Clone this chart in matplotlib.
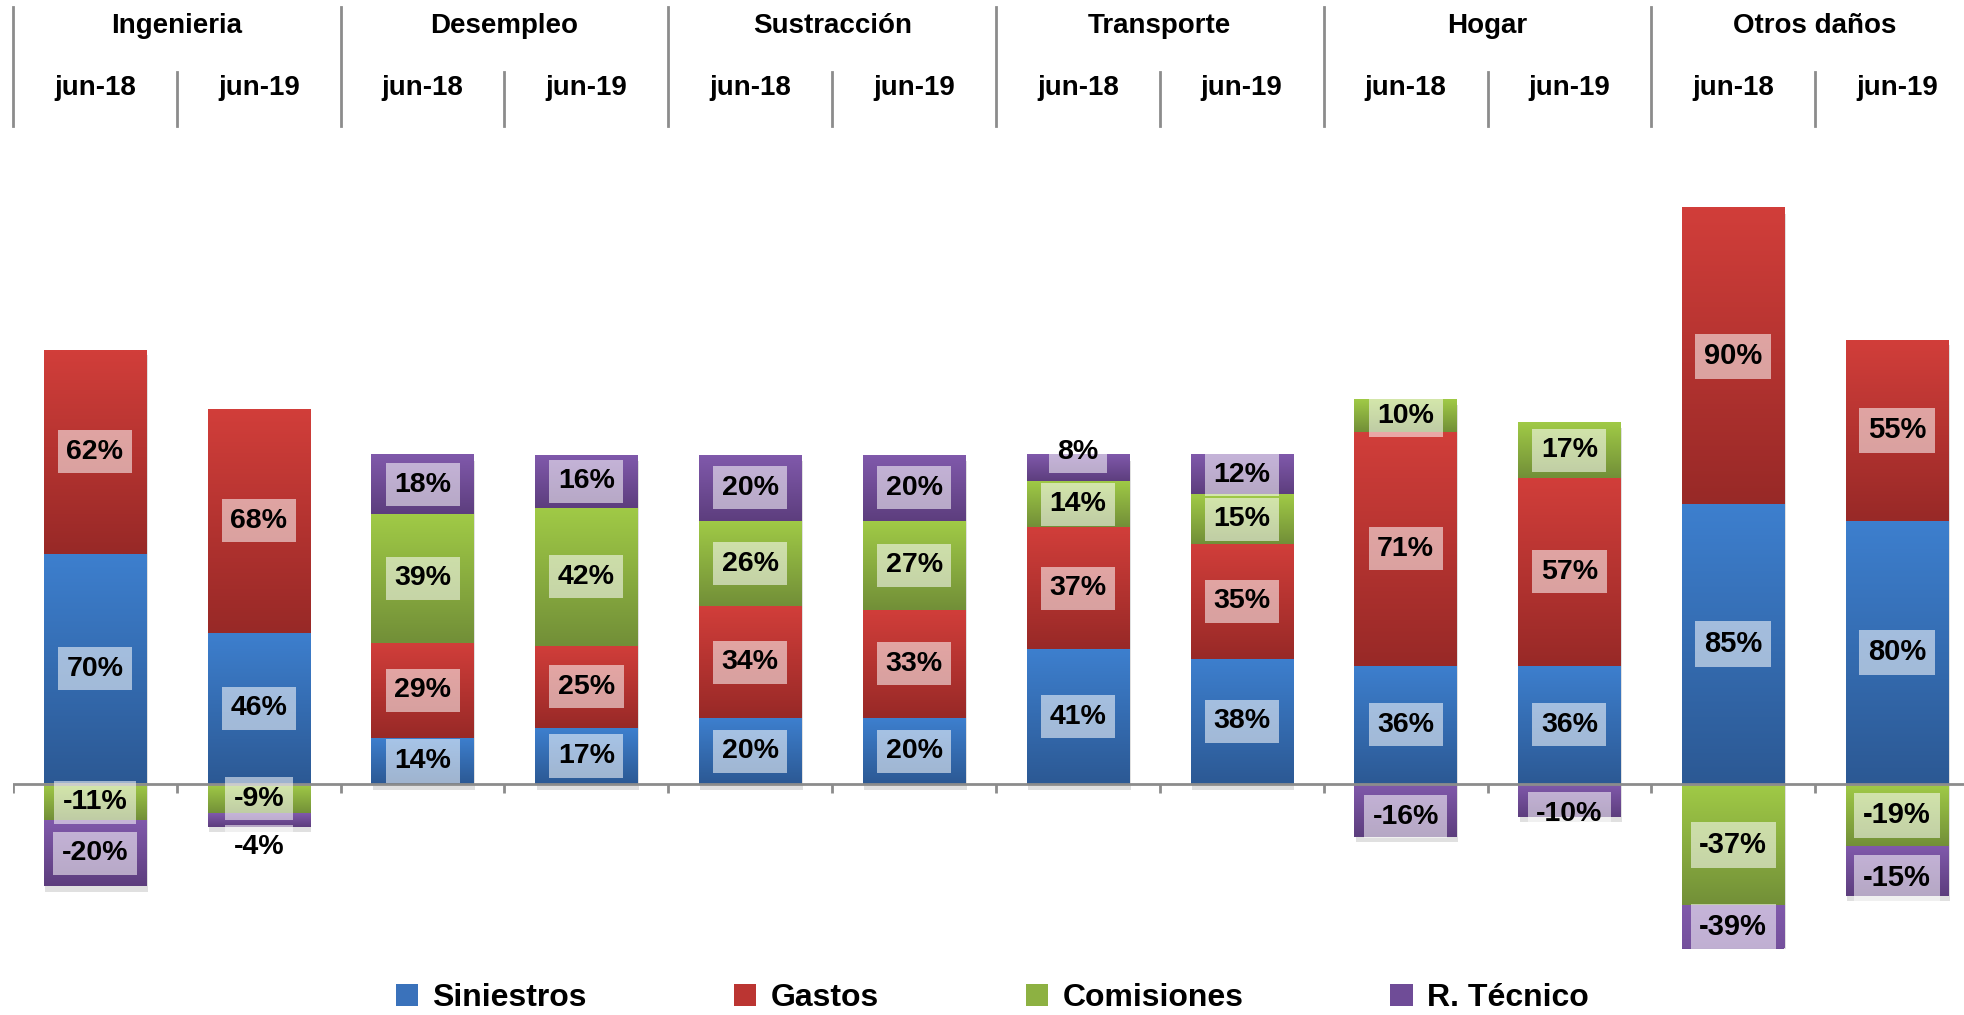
import numpy as np
import matplotlib
matplotlib.use('Agg')
import matplotlib.pyplot as plt
from matplotlib import patheffects as pe
from matplotlib.patches import Patch

# ramos y periodos
cats = ['Ingenieria', 'Desempleo', 'Sustracción', 'Transporte', 'Hogar', 'Otros daños']
periods = ['jun-18', 'jun-19']
series = ['Siniestros', 'Gastos', 'Comisiones', 'R. Técnico']

# % sobre primas, una entrada por barra (jun-18, jun-19 de cada ramo)
siniestros = [70, 46, 14, 17, 20, 20, 41, 38, 36, 36, 85, 80]
gastos = [62, 68, 29, 25, 34, 33, 37, 35, 71, 57, 90, 55]
comisiones = [-11, -9, 39, 42, 26, 27, 14, 15, 10, 17, -37, -19]
tecnico = [-20, -4, 18, 16, 20, 20, 8, 12, -16, -10, -39, -15]

top_cols = ['#3d7fce', '#d13e3a', '#a0ca46', '#8059ab']
bot_cols = ['#2c5994', '#982927', '#728f38', '#5d3e7e']
mid_cols = ['#3a72bb', '#bb3532', '#8db142', '#6f4c97']

# labels moved by hand in the original (bar index, series index) -> shift in %
label_shift = {(6, 3): 5, (1, 3): -8, (9, 3): -4, (8, 3): -2, (11, 3): -2}

plt.rcParams['font.family'] = ['Liberation Sans', 'DejaVu Sans']
grey = '#8c8c8c'
YMIN, YMAX = -50, 200


def hex2rgb(h):
    return np.array([int(h[i:i + 2], 16) / 255 for i in (1, 3, 5)])


fig = plt.figure(figsize=(19.65, 10.15), dpi=100)
ax = fig.add_axes([13 / 1965, 66.5 / 1015, 1966 / 1965, 822.5 / 1015])
ax.axis('off')

x = np.arange(len(siniestros))
pos = np.zeros(len(x))
neg = np.zeros(len(x))
for k, vals in enumerate([siniestros, gastos, comisiones, tecnico]):
    v = np.array(vals, dtype=float)
    bottom = np.where(v >= 0, pos, neg)
    bars = ax.bar(x, v, 0.625, bottom=bottom, color=mid_cols[k], linewidth=0, zorder=2,
                  path_effects=[pe.SimplePatchShadow(offset=(1, -4), shadow_rgbFace='#999999', alpha=0.3),
                                pe.Normal()])
    pos += np.where(v > 0, v, 0)
    neg += np.where(v < 0, v, 0)

    t = hex2rgb(top_cols[k])
    b = hex2rgb(bot_cols[k])
    grad = np.linspace(0, 1, 64)[:, None, None]
    img = t * (1 - grad) + b * grad
    for i, (bar, val) in enumerate(zip(bars, v)):
        x0 = bar.get_x()
        y0 = bar.get_y()
        y1 = y0 + bar.get_height()
        lo, hi = min(y0, y1), max(y0, y1)
        ax.imshow(img, extent=[x0, x0 + bar.get_width(), lo, hi], aspect='auto',
                  origin='upper', zorder=2.5, interpolation='bilinear')
        yc = (max(lo, YMIN) + min(hi, YMAX)) / 2 + label_shift.get((i, k), 0)
        ax.text(x0 + bar.get_width() / 2, yc, f'{int(val)}%', ha='center', va='center',
                fontsize=21 if i >= 10 else 20.5, fontweight='bold', zorder=5,
                bbox=dict(boxstyle='square,pad=0.3', fc='white', ec='none', alpha=0.55))

ax.set_xlim(-0.5, 11.5)
ax.set_ylim(YMIN, YMAX)

# eje en cero con marcas entre barras
ax.axhline(0, color=grey, lw=2, zorder=3)
ax.vlines(np.arange(-0.5, 12), -2.6, 0, color=grey, lw=2, zorder=3)

# cabecera: ramo y periodo
tr = ax.get_xaxis_transform()
for j, c in enumerate(cats):
    ax.plot([2 * j - 0.5] * 2, [1.0, 1.145], transform=tr, color=grey, lw=2, clip_on=False)
    ax.plot([2 * j + 0.5] * 2, [1.0, 1.0654], transform=tr, color=grey, lw=2, clip_on=False)
    ax.text(2 * j + 0.5, 1.1216, c, transform=tr, ha='center', va='center',
            fontsize=20, fontweight='bold')
    for p, per in enumerate(periods):
        ax.text(2 * j + p, 1.046, per, transform=tr, ha='center', va='center',
                fontsize=20, fontweight='bold')
ax.plot([11.5] * 2, [1.0, 1.145], transform=tr, color=grey, lw=2, clip_on=False)

handles = [Patch(facecolor=mid_cols[k], edgecolor='none', label=s) for k, s in enumerate(series)]
fig.legend(handles=handles, loc='center', bbox_to_anchor=(0.505, 0.0165), ncol=4, frameon=False,
           prop={'weight': 'bold', 'size': 23}, handlelength=0.7, handleheight=0.65,
           handletextpad=0.45, columnspacing=4.6, borderpad=0)

fig.savefig('out.png', dpi=100)
